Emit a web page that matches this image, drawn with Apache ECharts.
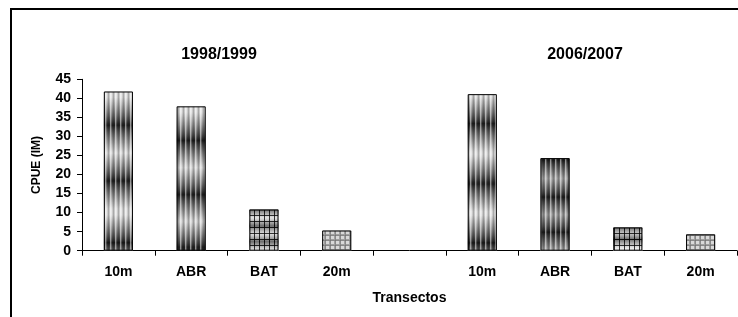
<!DOCTYPE html>
<html>
<head>
<meta charset="utf-8">
<script src="https://cdn.jsdelivr.net/npm/echarts@6/dist/echarts.min.js"></script>
<style>
  html, body { margin: 0; padding: 0; background: #fff; }
  #chart { width: 738px; height: 317px; }
</style>
</head>
<body>
<div id="chart"></div>
<script>
// data
var periods = ['1998/1999', '2006/2007'];
var sites = ['10m', 'ABR', 'BAT', '20m'];
var cpue9899 = [41.8, 37.9, 10.8, 5.3];
var cpue0607 = [41.1, 24.3, 6.1, 4.3];
var yTicks = [0, 5, 10, 15, 20, 25, 30, 35, 40, 45];

// texture look (style only): dark band positions as fraction of bar height
var bands9899 = [[0.21, 0.56, 0.95], [0.236, 0.61, 0.98], [0, 0.4, 0.78], []];
var bands0607 = [[0.19, 0.57, 0.95], [0.02, 0.42, 0.80], [0, 0.51], []];
var pxPerUnit = 171.4 / 45;

var font = 'Arial, "Liberation Sans", sans-serif';

function makeCanvas(w, h, draw) {
  var c = document.createElement('canvas');
  c.width = w; c.height = h;
  draw(c.getContext('2d'));
  return c;
}

// vertical stripes for the tall bars
var stripes = makeCanvas(5, 4, function (g) {
  var cols = ['rgba(255,255,255,0.5)', 'rgba(255,255,255,0.2)', 'rgba(0,0,0,0.1)', 'rgba(0,0,0,0.25)', 'rgba(0,0,0,0.1)'];
  cols.forEach(function (c, i) { g.fillStyle = c; g.fillRect(i, 0, 1, 4); });
});
// small dark grid for BAT
var gridDark = makeCanvas(5, 6, function (g) {
  g.fillStyle = 'rgba(255,255,255,0.35)'; g.fillRect(0, 0, 4, 5);
  g.fillStyle = 'rgba(0,0,0,0.75)'; g.fillRect(4, 0, 1, 6); g.fillRect(0, 5, 5, 1);
});
// light grid for 20m
var gridLight = makeCanvas(5, 5, function (g) {
  g.fillStyle = 'rgba(255,255,255,0.6)'; g.fillRect(1, 1, 3, 3);
  g.fillStyle = 'rgba(0,0,0,0.15)'; g.fillRect(0, 0, 5, 1); g.fillRect(0, 0, 1, 5);
});

function bandFill(bands, h, fall) {
  if (!bands.length) return '#a0a0a0';
  var stops = [];
  for (var i = 0; i <= 80; i++) {
    var t = i / 80;
    var d = Math.min.apply(null, bands.map(function (b) { return Math.abs(t - b); })) * h;
    var s = Math.round(25 + 200 * Math.min(1, Math.pow(d / fall, 0.8)));
    stops.push({ offset: t, color: 'rgb(' + s + ',' + s + ',' + s + ')' });
  }
  return new echarts.graphic.LinearGradient(0, 0, 0, 1, stops);
}

var overlays = [stripes, stripes, gridDark, gridLight];

// build the category axis: two groups with an empty slot between
var cats = [], baseData = [], topData = [];
function addGroup(p, vals, bands) {
  vals.forEach(function (v, i) {
    cats.push(p + '|' + sites[i]);
    var fall = i === 2 ? 9 : 28;
    baseData.push({ value: v, itemStyle: { color: bandFill(bands[i], v * pxPerUnit, fall) } });
    topData.push({ value: v, itemStyle: { color: { image: overlays[i], repeat: 'repeat' } } });
  });
}
addGroup(periods[0], cpue9899, bands9899);
cats.push('gap|');
baseData.push('-');
topData.push('-');
addGroup(periods[1], cpue0607, bands0607);

var chart = echarts.init(document.getElementById('chart'), null, { renderer: 'canvas' });

var option = {
  animation: false,
  backgroundColor: '#fff',
  grid: { left: 82, right: 1, top: 79.3, bottom: 66.3, containLabel: false },
  xAxis: {
    type: 'category',
    data: cats,
    name: 'Transectos',
    nameLocation: 'middle',
    nameGap: 40,
    nameTextStyle: { color: '#000', fontWeight: 'bold', fontSize: 14, fontFamily: font },
    axisLine: { lineStyle: { color: '#000', width: 1 } },
    axisTick: { show: true, interval: 0, length: 5, lineStyle: { color: '#000' } },
    axisLabel: {
      interval: 0, margin: 14, color: '#000', fontWeight: 'bold', fontSize: 14, fontFamily: font,
      formatter: function (v) { return v.split('|')[1]; }
    }
  },
  yAxis: {
    type: 'value',
    min: yTicks[0],
    max: yTicks[yTicks.length - 1],
    interval: yTicks[1] - yTicks[0],
    name: 'CPUE (IM)',
    nameLocation: 'middle',
    nameRotate: 90,
    nameGap: 39,
    nameTextStyle: { color: '#000', fontWeight: 'bold', fontSize: 12, fontFamily: font },
    axisLine: { show: true, lineStyle: { color: '#000', width: 1 } },
    axisTick: { show: true, length: 5, lineStyle: { color: '#000' } },
    splitLine: { show: false },
    axisLabel: { margin: 11, color: '#000', fontWeight: 'bold', fontSize: 14, fontFamily: font }
  },
  graphic: [
    { type: 'rect', shape: { x: 11, y: 9, width: 780, height: 360 }, style: { fill: 'none', stroke: '#000', lineWidth: 2 }, silent: true },
    { type: 'text', x: 219, y: 55, style: { text: periods[0], fill: '#000', font: 'bold 16px ' + font, textAlign: 'center', textVerticalAlign: 'middle' } },
    { type: 'text', x: 585, y: 55, style: { text: periods[1], fill: '#000', font: 'bold 16px ' + font, textAlign: 'center', textVerticalAlign: 'middle' } }
  ],
  series: [
    {
      type: 'bar',
      name: 'base',
      data: baseData,
      barWidth: '40%',
      barGap: '-100%',
      itemStyle: { borderWidth: 0 }
    },
    {
      type: 'bar',
      name: 'texture',
      data: topData,
      barWidth: '40%',
      barGap: '-100%',
      itemStyle: { borderColor: '#000', borderWidth: 1 }
    }
  ]
};

chart.setOption(option);
</script>
</body>
</html>
